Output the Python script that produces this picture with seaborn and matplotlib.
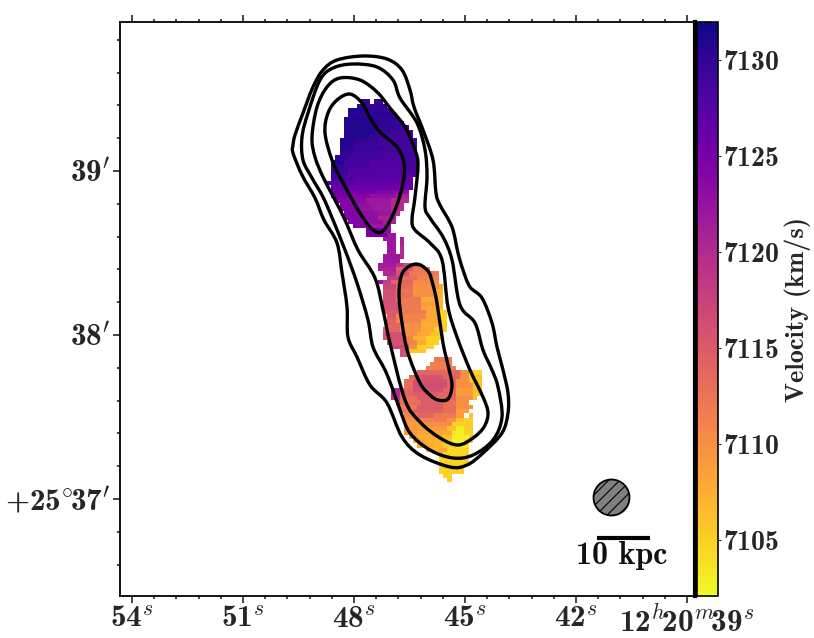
import numpy as np
import matplotlib
matplotlib.use("Agg")
import matplotlib.pyplot as plt
from matplotlib.patches import Circle, PathPatch
from matplotlib.path import Path
import seaborn as sns

# ---- velocity map: per map row, (first col, end col, km/s)
upper_first_row = 18
upper_spans = [
 [(56,58,7130),(59,61,7130)],
 [(55,62,7130)],
 [(53,58,7131),(58,63,7130)],
 [(53,63,7130.5),(63,64,7130)],
 [(52,60,7131),(60,65,7130)],
 [(52,60,7131),(60,64,7130),(64,66,7129.5)],
 [(52,60,7131),(60,65,7130),(65,67,7129)],
 [(52,59,7131),(59,63,7130),(63,68,7129)],
 [(52,58,7131),(58,62,7130),(62,68,7129)],
 [(51,55,7131),(55,60,7130),(60,66,7129),(66,69,7128.5)],
 [(51,54,7131),(54,60,7129.5),(60,69,7129)],
 [(51,54,7130.5),(54,62,7129.5),(62,69,7129)],
 [(51,54,7130),(54,60,7129),(60,66,7128.5),(66,69,7129)],
 [(50,53,7130),(53,60,7129),(60,69,7128.5)],
 [(49,52,7131),(52,58,7129),(58,66,7128),(66,69,7129)],
 [(49,52,7130),(52,58,7128.5),(58,66,7127.5),(66,69,7129)],
 [(49,53,7129.5),(53,60,7128),(60,66,7127.5),(66,69,7129)],
 [(49,53,7129),(53,60,7127.5),(60,69,7127.5)],
 [(49,54,7128.5),(54,62,7127),(62,68,7127)],
 [(48,50,7127),(50,55,7127),(55,64,7126.5),(64,68,7126.5)],
 [(49,54,7126.5),(54,62,7126),(62,68,7126)],
 [(49,53,7125.5),(53,60,7125),(60,66,7124),(66,67,7123)],
 [(49,53,7125),(53,58,7124),(58,64,7123),(64,67,7121)],
 [(50,53,7124.5),(53,57,7123.5),(57,63,7122),(63,67,7120)],
 [(51,54,7124),(54,58,7123),(58,63,7122),(63,66,7120)],
 [(51,55,7124),(55,59,7122.5),(59,63,7121.5),(63,66,7120)],
 [(52,56,7124),(56,60,7123),(60,63,7122),(63,65,7120)],
 [(52,56,7124),(56,60,7123),(60,64,7121)],
 [(53,57,7124),(57,61,7123),(61,64,7121)],
 [(54,58,7124),(58,63,7122)],
 [(57,61,7125),(61,63,7123)],
 [(57,62,7125),(62,64,7122)],
 [(61,64,7122),(65,66,7121)],
 [(62,64,7122),(65,66,7121)],
 [(62,64,7122),(65,66,7120)],
 [(62,64,7122),(65,66,7120)],
 [(61,65,7122),(65,66,7120)],
 [(61,65,7122)],
]
middle_first_row = 56
middle_spans = [
 [(60,64,7121.5),(64,66,7119),(66,70,7116)],
 [(60,64,7121),(64,68,7115),(68,72,7112)],
 [(61,64,7120),(64,67,7116),(67,74,7112)],
 [(62,65,7118),(65,69,7113),(69,74,7111)],
 [(60,61,7122),(61,63,7118),(63,68,7114),(68,74,7110.5)],
 [(61,64,7117),(64,68,7113),(68,74,7110),(74,75,7108)],
 [(61,64,7116),(64,68,7112.5),(68,73,7110),(73,75,7107)],
 [(61,64,7116),(64,68,7113),(68,73,7110),(73,75,7107)],
 [(61,64,7116),(64,70,7112),(70,74,7108),(74,75,7107)],
 [(61,65,7116),(65,70,7112),(70,74,7109),(74,75,7107)],
 [(61,65,7116),(65,70,7112),(70,74,7108),(74,75,7106.5)],
 [(61,65,7115),(65,71,7112),(71,74,7108),(74,76,7105)],
 [(62,64,7115),(64,71,7111),(71,74,7108),(74,76,7104.5)],
 [(62,64,7114),(64,70,7111),(70,74,7108),(74,76,7104.5)],
 [(62,65,7114),(65,70,7110),(70,74,7107.5),(74,76,7105)],
 [(61,65,7114),(65,70,7110),(70,73,7108),(73,76,7105)],
 [(61,66,7116),(66,69,7110),(69,72,7108),(72,75,7106)],
 [(61,66,7116),(66,68,7111),(68,71,7107),(71,75,7105)],
 [(62,66,7116),(66,69,7111),(69,71,7108),(71,74,7105)],
 [(63,67,7117),(67,69,7110),(69,73,7105)],
 [(65,67,7116),(67,71,7105.5)],
 [(65,67,7116)],
]
lower_first_row = 78
lower_spans = [
 [(73,77,7112)],
 [(72,77,7111.5)],
 [(71,78,7111.5)],
 [(69,74,7114),(74,79,7114),(79,81,7110),(81,84,7105)],
 [(67,69,7114),(69,75,7116),(75,79,7114),(79,81,7110),(81,84,7106)],
 [(66,68,7113),(68,76,7116),(76,78,7114),(78,81,7110),(81,84,7106)],
 [(66,68,7113),(68,76,7116.5),(76,78,7114),(78,82,7110),(82,84,7106)],
 [(63,65,7120),(65,68,7114),(68,75,7116),(75,78,7114),(78,82,7109),(82,84,7106.5)],
 [(63,65,7120),(65,68,7114),(68,74,7115),(74,78,7114),(78,82,7109),(82,84,7106)],
 [(63,65,7119),(65,69,7113),(69,73,7115),(73,78,7114),(78,82,7110),(82,83,7106)],
 [(64,65,7118),(65,70,7113),(70,75,7115),(75,78,7113),(78,81,7110)],
 [(65,69,7112),(69,75,7115),(75,78,7113),(78,82,7110)],
 [(65,68,7112),(68,75,7114.5),(75,78,7113),(78,81,7109)],
 [(66,69,7111),(69,73,7114),(73,78,7112),(78,80,7109),(81,82,7106)],
 [(66,69,7109.5),(69,73,7111),(73,76,7112),(76,78,7110),(78,80,7106),(80,82,7105)],
 [(66,70,7109),(70,74,7110),(74,77,7110.5),(77,82,7105)],
 [(66,74,7109),(74,76,7109),(76,78,7106),(78,80,7103),(80,82,7105)],
 [(66,69,7109),(69,77,7108),(77,80,7103),(80,82,7105)],
 [(67,70,7108),(70,75,7107.5),(75,77,7106),(77,81,7103),(81,82,7105)],
 [(68,71,7108),(71,75,7107),(75,77,7105),(77,80,7102.5),(80,82,7104)],
 [(69,73,7107.5),(73,75,7107),(75,78,7105),(78,81,7103.5)],
 [(71,74,7107),(74,76,7108),(76,81,7104.5)],
 [(74,75,7107),(75,81,7104.5)],
 [(74,81,7104.5)],
 [(74,81,7105)],
 [(74,80,7105)],
 [(74,80,7105)],
 [(75,77,7105)],
 [(76,77,7105)],
]

# ---- intensity contours, plate readings (x, y); closed loops, last vertex not repeated
outer_x = [293,295,303,313,323,337,363,387,402,410,414,423,433,436,440,452,458,463,470,482,492,497,503,508,508,502,483,467,450,420,402,387,370,357,348,347,342,337,324,315,302,293]
outer_y = [145,135,113,87,70,60,56,59,70,90,107,130,160,193,205,227,253,270,287,298,323,347,370,393,413,433,453,465,467,455,437,403,385,357,337,307,273,243,220,198,175,153]
second_x = [302,308,320,333,353,377,393,400,417,425,427,425,430,443,452,460,475,483,492,498,502,493,473,453,430,410,400,393,385,373,368,357,345,333,323,312,303]
second_y = [137,113,80,68,64,67,80,98,123,150,177,207,218,237,260,305,323,350,370,387,417,440,455,458,450,433,410,390,370,347,320,283,250,220,197,178,160]
third_x = [312,317,327,340,360,377,390,405,415,418,415,412,415,430,442,448,457,470,483,488,484,473,458,440,420,405,390,383,375,358,345,335,323,315]
third_y = [137,107,87,78,80,92,108,127,150,165,197,220,230,243,260,307,337,370,397,413,427,438,445,438,422,400,343,310,278,250,220,200,177,157]
core_a_x = [350,337,328,325,332,343,360,372,383,395,403,404,397,380,370,362]
core_a_y = [94,100,113,133,160,183,213,229,231,210,183,163,147,132,118,103]
core_b_x = [416,403,399,402,408,420,430,438,448,452,448,443,437,433,428]
core_b_y = [264,272,293,323,353,383,395,400,399,385,365,343,303,285,271]

# ---- tick labels
ra_seconds = [54, 51, 48, 45, 42, 39]
ra_labels = [r"$\mathrm{54}^{s}$", r"$\mathrm{51}^{s}$", r"$\mathrm{48}^{s}$",
             r"$\mathrm{45}^{s}$", r"$\mathrm{42}^{s}$",
             r"$\mathrm{12}^{h}\!\mathrm{20}^{m}\!\mathrm{39}^{s}$"]
dec_minutes = [37, 38, 39]
dec_labels = [r"$\mathrm{{+}25}^{\circ}\!\mathrm{37}^{\prime}$",
              r"$\mathrm{38}^{\prime}$", r"$\mathrm{39}^{\prime}$"]
cbar_ticks = [7105, 7110, 7115, 7120, 7125, 7130]
v_min, v_max = 7102.1, 7132.0
beam_center = (611.5, 497.5)
beam_radius = 18.0
bar_x = [597, 650]
bar_y = [538, 538]

W, H = 814, 638
L, R, T, B = 120.5, 695, 22, 596
CELL = 4.3

sns.set_theme(style="ticks")
plt.rcParams.update({
    "font.family": ["cmb10", "DejaVu Sans"],
    "mathtext.fontset": "custom",
    "mathtext.rm": "cmb10",
    "mathtext.it": "cmmi10",
    "mathtext.bf": "cmb10",
    "mathtext.fallback": "cm",
    "axes.unicode_minus": False,
    "axes.formatter.use_mathtext": True,
    "text.color": "#111111",
    "axes.edgecolor": "black",
    "hatch.linewidth": 0.8,
})

fig = plt.figure(figsize=(W/100, H/100), dpi=100)
ax = fig.add_axes([L/W, 1-B/H, (R-L)/W, (B-T)/H])
cax = fig.add_axes([697/W, 1-B/H, 21/W, (B-T)/H])

nx = int(np.ceil((R-L)/CELL))
ny = int(np.ceil((B-T)/CELL))
grid = np.full((ny, nx), np.nan)
for first, spans in [(upper_first_row, upper_spans),
                     (middle_first_row, middle_spans),
                     (lower_first_row, lower_spans)]:
    for i, row in enumerate(spans):
        for c0, c1, v in row:
            grid[first+i, c0:c1] = v

sns.heatmap(grid, ax=ax, cbar_ax=cax, cmap="plasma_r", vmin=v_min, vmax=v_max,
            xticklabels=False, yticklabels=False, linewidths=0, antialiased=False,
            cbar_kws={"ticks": cbar_ticks})

def gx(v): return (np.asarray(v, float) - L)/CELL
def gy(v): return (np.asarray(v, float) - T)/CELL

def smooth_loop(xs, ys):
    """Closed curve through the read vertices (Catmull-Rom drawn as Bezier segments)."""
    p = np.column_stack([gx(xs), gy(ys)])
    n = len(p)
    verts, codes = [p[0]], [Path.MOVETO]
    for i in range(n):
        p0, p1, p2, p3 = p[i-1], p[i], p[(i+1) % n], p[(i+2) % n]
        verts += [p1 + (p2-p0)/6, p2 - (p3-p1)/6, p2]
        codes += [Path.CURVE4]*3
    return Path(verts, codes)

for xs, ys in [(outer_x, outer_y), (second_x, second_y), (third_x, third_y),
               (core_a_x, core_a_y), (core_b_x, core_b_y)]:
    ax.add_patch(PathPatch(smooth_loop(xs, ys), fill=False, edgecolor="black", lw=2.4))

# beam and scale bar
ax.add_patch(Circle((gx(beam_center[0]), gy(beam_center[1])), beam_radius/CELL,
                    facecolor="gray", edgecolor="black", lw=1.3, hatch="///"))
ax.plot(gx(bar_x), gy(bar_y), color="black", lw=3, solid_capstyle="butt")
ax.text(gx(622), gy(555), "10 kpc", ha="center", va="center", fontsize=23)

# sky axes
def ra_to_x(s): return gx(132 + (54 - np.asarray(s, float))*37.0)
def dec_to_y(d): return gy(499 - (np.asarray(d, float) - 37)*164.0)

ax.set_xticks(ra_to_x(ra_seconds))
ax.set_xticklabels(ra_labels, fontsize=22.5)
ax.set_yticks(dec_to_y(dec_minutes))
ax.set_yticklabels(dec_labels, fontsize=22.5, rotation=0)
minor_ra = [s for s in np.arange(39, 54.01, 0.6) if round(s/3, 6) % 1 != 0]
ax.set_xticks(ra_to_x(minor_ra), minor=True)
minor_dec = [d for d in np.arange(36.6, 39.95, 0.2) if round(d, 6) % 1 != 0]
ax.set_yticks(dec_to_y(minor_dec), minor=True)
ax.set_xlim(0, (R-L)/CELL)
ax.set_ylim((B-T)/CELL, 0)
ax.tick_params(axis="x", which="major", top=True, bottom=True, length=5, width=1.2, pad=2.5)
ax.tick_params(axis="x", which="minor", top=True, bottom=True, length=2.3, width=1.2)
ax.tick_params(axis="y", which="major", left=True, right=False, length=5, width=1.2, pad=2)
ax.tick_params(axis="y", which="minor", left=True, right=False, length=2.3, width=1.2)
for name, sp in ax.spines.items():
    sp.set_visible(True)
    sp.set_color("black")
    sp.set_linewidth(1.3)
ax.spines["right"].set_linewidth(3.0)

cbar = ax.collections[0].colorbar
cbar.outline.set_visible(True)
cbar.outline.set_edgecolor("black")
cbar.outline.set_linewidth(1.2)
cax.tick_params(axis="y", which="both", right=True, left=False, length=2.5, width=0.8,
                pad=1, labelsize=20)
cax.set_ylabel("Velocity (km/s)", fontsize=19, labelpad=4)

fig.savefig("out.png", dpi=100)
